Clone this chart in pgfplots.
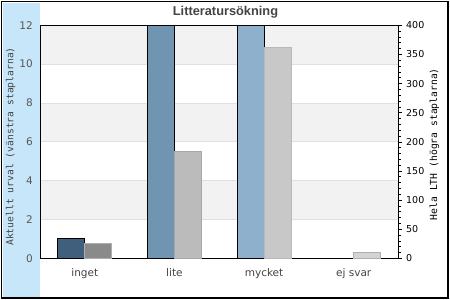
\documentclass[border=0pt]{standalone}
\usepackage{pgfplots}
\pgfplotsset{compat=1.18}
\usepackage{fontspec}
\setmainfont{DejaVu Sans}
\newfontfamily\titlefont{Liberation Sans}
\newfontfamily\labelmono{DejaVu Sans Mono}
\definecolor{stripblue}{RGB}{200,230,250}
\definecolor{band}{RGB}{242,242,242}
\definecolor{gridc}{RGB}{224,224,224}
\definecolor{cA}{RGB}{63,95,125}
\definecolor{cB}{RGB}{112,149,176}
\definecolor{cC}{RGB}{143,176,204}
\definecolor{gA}{RGB}{138,138,138}
\definecolor{gB}{RGB}{187,187,187}
\definecolor{gC}{RGB}{200,200,200}
\definecolor{gD}{RGB}{212,212,212}
\definecolor{gedge}{RGB}{175,175,175}
\definecolor{txt}{RGB}{68,68,68}
\begin{document}
\begin{tikzpicture}
\useasboundingbox (0bp,0bp) rectangle (450bp,300bp);
\fill[white] (0bp,0bp) rectangle (450bp,300bp);
\fill[stripblue] (3bp,3.3bp) rectangle (40bp,297bp);
\draw[line width=1.2bp,black] (1.5bp,2bp) rectangle (448bp,298.5bp);
\node[font=\titlefont\bfseries\fontsize{12.8bp}{14bp}\selectfont,text=txt] at (225.5bp,288bp) {Litteratursökning};
\begin{axis}[
  at={(40bp,41.7bp)}, anchor=south west,
  scale only axis, width=358.5bp, height=233bp,
  xmin=-0.5, xmax=3.5, ymin=0, ymax=12,
  xtick={0,1,2,3}, xticklabels={inget,lite,mycket,ej svar},
  ytick={0,2,...,12},
  major tick length=0pt, minor tick length=0pt,
  /pgf/number format/assume math mode=true,
  axis line style={black, line width=1bp},
  axis on top,
  xticklabel style={font=\fontsize{10.5bp}{12bp}\selectfont, text=txt, anchor=base, inner sep=0pt, yshift=-18.7bp},
  yticklabel style={font=\fontsize{10.5bp}{12bp}\selectfont, text=txt!90, anchor=east, inner sep=0pt, xshift=-7bp},
  ylabel={Aktuellt urval (vänstra staplarna)},
  ylabel style={font=\labelmono\fontsize{9.7bp}{11bp}\selectfont, text=txt, at={(axis description cs:-0.082,0.48)}, anchor=center, rotate=0},
  clip=true,
]
\fill[band] (axis cs:-0.5,2) rectangle (axis cs:3.5,4);
\fill[band] (axis cs:-0.5,6) rectangle (axis cs:3.5,8);
\fill[band] (axis cs:-0.5,10) rectangle (axis cs:3.5,12);
\draw[gridc, line width=0.8bp] (axis cs:-0.5,2) -- (axis cs:3.5,2);
\draw[gridc, line width=0.8bp] (axis cs:-0.5,4) -- (axis cs:3.5,4);
\draw[gridc, line width=0.8bp] (axis cs:-0.5,6) -- (axis cs:3.5,6);
\draw[gridc, line width=0.8bp] (axis cs:-0.5,8) -- (axis cs:3.5,8);
\draw[gridc, line width=0.8bp] (axis cs:-0.5,10) -- (axis cs:3.5,10);
\addplot[ybar, bar width=0.3, bar shift=-0.15, fill=cA, draw=black, line width=0.9bp] coordinates {(0,1)};
\addplot[ybar, bar width=0.3, bar shift=-0.15, fill=cB, draw=black, line width=0.9bp] coordinates {(1,14)};
\addplot[ybar, bar width=0.3, bar shift=-0.15, fill=cC, draw=black, line width=0.9bp] coordinates {(2,14)};
\end{axis}
\begin{axis}[
  at={(40bp,41.7bp)}, anchor=south west,
  scale only axis, width=358.5bp, height=233bp,
  xmin=-0.5, xmax=3.5, ymin=0, ymax=400,
  axis x line=none, axis y line*=right,
  ytick={0,50,...,400}, minor y tick num=4,
  tick align=outside, major tick length=3bp, minor tick length=2bp,
  tick style={black, line width=0.6bp},
  /pgf/number format/assume math mode=true,
  axis line style={black, line width=1bp},
  yticklabel style={font=\fontsize{9.5bp}{11bp}\selectfont, text=black, anchor=west, inner sep=0pt, xshift=4.5bp},
  ylabel={Hela LTH (högra staplarna)},
  ylabel style={font=\labelmono\fontsize{9.7bp}{11bp}\selectfont, text=black, at={(axis description cs:1.1,0.49)}, anchor=center, rotate=0},
]
\addplot[ybar, bar width=0.3, bar shift=0.15, fill=gA, draw=gedge, line width=0.8bp] coordinates {(0,25)};
\addplot[ybar, bar width=0.3, bar shift=0.15, fill=gB, draw=gB!90!black, line width=0.8bp] coordinates {(1,184)};
\addplot[ybar, bar width=0.3, bar shift=0.15, fill=gC, draw=gC!92!black, line width=0.8bp] coordinates {(2,362)};
\addplot[ybar, bar width=0.3, bar shift=0.15, fill=gD, draw=gedge, line width=0.8bp] coordinates {(3,10)};
\end{axis}
\end{tikzpicture}
\end{document}
